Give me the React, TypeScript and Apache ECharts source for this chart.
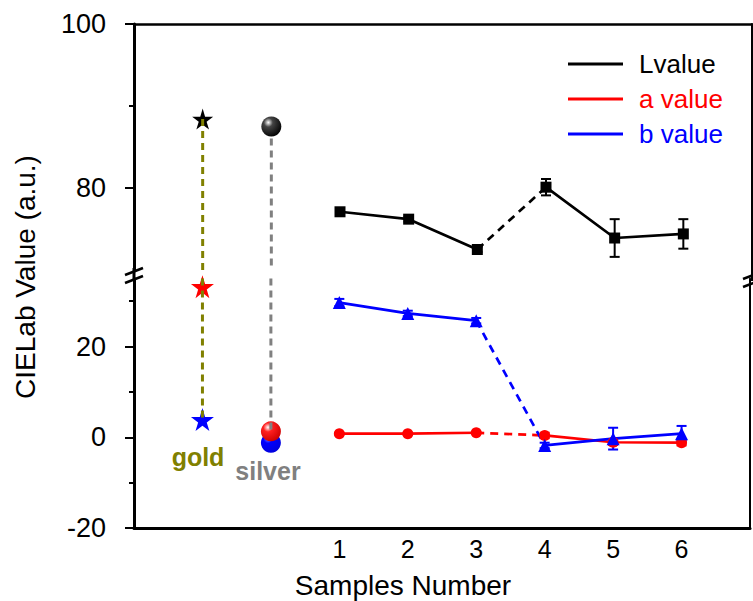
import React, { useEffect, useRef } from "react";
import * as echarts from "echarts";

// ---- data ----
const samples = [1, 2, 3, 4, 5, 6];
const lValues = [77.1, 76.2, 72.5, 80.1, 73.9, 74.4];
const lErrors = [0.3, 0.3, 0.3, 1.0, 2.3, 1.8];
const aValues = [0.8, 0.8, 1.0, 0.4, -1.1, -1.2];
const aErrors = [0.2, 0.2, 0.2, 0.6, 0.6, 0.6];
const bValues = [29.7, 27.3, 25.7, -1.8, -0.3, 0.8];
const bErrors = [0.8, 0.6, 0.6, 0.6, 2.4, 1.7];

const refNames = ["gold", "silver"];
const refX = [-1, 0];
const refL = [88.4, 87.5];
const refA = [33.2, 1.3];
const refB = [3.9, -1.2];

const xTickLabels = ["1", "2", "3", "4", "5", "6"];
const topMajorTicks = [80, 100];
const topMinorTicks = [90];
const bottomMajorTicks = [-20, 0, 20];
const bottomMinorTicks = [-10, 10, 30];
const legendNames = ["Lvalue", "a value", "b value"];

const FONT = "Liberation Sans, Arial, sans-serif";
const STAR =
  "path://M50,0 L61,35 L98,35 L68,57 L79,91 L50,70 L21,91 L32,57 L2,35 L39,35 Z";

const pairs = (vals: number[], from: number, to: number) =>
  samples.slice(from, to).map((s, i) => [s, vals[from + i]]);

const triples = (vals: number[], errs: number[]) =>
  samples.map((s, i) => [s, vals[i], errs[i]]);

function errorBars(data: number[][], color: string, gi: number) {
  return {
    type: "custom",
    xAxisIndex: gi,
    yAxisIndex: gi * 3,
    data,
    encode: { x: 0, y: 1 },
    z: 3,
    renderItem: (_p: any, api: any) => {
      const x = api.value(0);
      const y = api.value(1);
      const e = api.value(2);
      const hi = api.coord([x, y + e]);
      const lo = api.coord([x, y - e]);
      const w = 5;
      const st = { stroke: color, lineWidth: 2 };
      return {
        type: "group",
        children: [
          { type: "line", shape: { x1: hi[0], y1: hi[1], x2: lo[0], y2: lo[1] }, style: st },
          { type: "line", shape: { x1: hi[0] - w, y1: hi[1], x2: hi[0] + w, y2: hi[1] }, style: st },
          { type: "line", shape: { x1: lo[0] - w, y1: lo[1], x2: lo[0] + w, y2: lo[1] }, style: st },
        ],
      };
    },
  };
}

function lineTriplet(name: string, vals: number[], color: string, symbol: string, size: number, gi: number) {
  const base = {
    name,
    type: "line",
    xAxisIndex: gi,
    yAxisIndex: gi * 3,
    color,
    lineStyle: { color, width: 2.7 },
    itemStyle: { color },
    symbol,
    symbolSize: size,
    z: 4,
  };
  return [
    { ...base, data: pairs(vals, 0, 3) },
    { ...base, data: pairs(vals, 2, 4), showSymbol: false, symbol: "none", lineStyle: { color, width: 2.7, type: [8, 6] } },
    { ...base, data: pairs(vals, 3, 6) },
  ];
}

function sphere(c0: string, c1: string, c2: string) {
  return new echarts.graphic.RadialGradient(0.35, 0.3, 0.75, [
    { offset: 0, color: c0 },
    { offset: 0.3, color: c1 },
    { offset: 1, color: c2 },
  ]);
}

function refPoint(name: string, gi: number, x: number, y: number, symbol: string, size: number, color: any) {
  return {
    name, type: "scatter", xAxisIndex: gi, yAxisIndex: gi * 3,
    data: [[x, y]], symbol, symbolSize: size,
    itemStyle: { color, opacity: 1 }, z: 2,
  };
}

export default function App() {
  const ref = useRef<HTMLDivElement>(null);
  useEffect(() => {
    if (!ref.current) return;
    const chart = echarts.init(ref.current, undefined, { renderer: "svg" });

    const yLeft = (gi: number, min: number, max: number, major: number[], minor: number[]) => [
      {
        gridIndex: gi, type: "value", min, max, position: "left",
        axisLine: { show: true, onZero: false, lineStyle: { color: "#000", width: 3 } },
        axisTick: { show: true, inside: false, length: 9, customValues: major, lineStyle: { color: "#000", width: 2 } },
        axisLabel: { show: true, customValues: major, margin: 28, fontSize: 27, color: "#000", fontFamily: FONT },
        splitLine: { show: false },
      },
      {
        gridIndex: gi, type: "value", min, max, position: "left",
        axisLine: { show: false, onZero: false },
        axisTick: { show: true, length: 5, customValues: minor, lineStyle: { color: "#000", width: 2 } },
        axisLabel: { show: false },
        splitLine: { show: false },
      },
      {
        gridIndex: gi, type: "value", min, max, position: "right",
        axisLine: { show: true, onZero: false, lineStyle: { color: "#000", width: 2 } },
        axisTick: { show: false },
        axisLabel: { show: false },
        splitLine: { show: false },
      },
    ];

    const option: any = {
      animation: false,
      backgroundColor: "#fff",
      textStyle: { fontFamily: FONT },
      grid: [
        { left: 134, right: 1, top: 24, height: 246 },
        { left: 134, right: 1, top: 278.5, bottom: 73 },
      ],
      xAxis: [
        {
          gridIndex: 0, type: "value", min: -2, max: 7, interval: 1, position: "top",
          axisLine: { show: true, onZero: false, lineStyle: { color: "#000", width: 2.5 } },
          axisTick: { show: false }, axisLabel: { show: false }, splitLine: { show: false },
        },
        {
          gridIndex: 1, type: "value", min: -2, max: 7, interval: 1, position: "bottom",
          axisLine: { show: true, onZero: false, lineStyle: { color: "#000", width: 3 } },
          axisTick: { show: false },
          axisLabel: {
            show: true, margin: 8, fontSize: 25, color: "#000", fontFamily: FONT,
            formatter: (v: number) => {
              const i = samples.indexOf(v);
              return i >= 0 ? xTickLabels[i] : "";
            },
          },
          splitLine: { show: false },
        },
      ],
      yAxis: [
        ...yLeft(0, 70, 100, topMajorTicks, topMinorTicks),
        ...yLeft(1, -20, 35, bottomMajorTicks, bottomMinorTicks),
      ],
      legend: {
        orient: "vertical",
        left: 568,
        top: 51,
        padding: 0,
        icon: "rect",
        itemWidth: 55,
        itemHeight: 3,
        itemGap: 9,
        selectedMode: false,
        textStyle: { fontSize: 26, fontFamily: FONT, padding: [0, 0, 0, 11] },
        data: [
          { name: legendNames[0], textStyle: { color: "#000" } },
          { name: legendNames[1], textStyle: { color: "#ff0000" } },
          { name: legendNames[2], textStyle: { color: "#0000ff" } },
        ],
      },
      series: [
        ...lineTriplet(legendNames[0], lValues, "#000000", "rect", 11, 0),
        ...lineTriplet(legendNames[1], aValues, "#ff0000", "circle", 11, 1),
        ...lineTriplet(legendNames[2], bValues, "#0000ff", "triangle", 13, 1),
        errorBars(triples(lValues, lErrors), "#000000", 0),
        errorBars(triples(aValues, aErrors), "#ff0000", 1),
        errorBars(triples(bValues, bErrors), "#0000ff", 1),
        refPoint("gold L", 0, refX[0], refL[0], STAR, 21, "#000000"),
        refPoint("gold a", 1, refX[0], refA[0], STAR, 23, "#ff0000"),
        refPoint("gold b", 1, refX[0], refB[0], STAR, 23, "#0000ff"),
        refPoint("silver L", 0, refX[1], refL[1], "circle", 20, sphere("#ffffff", "#444444", "#000000")),
        refPoint("silver b", 1, refX[1], refB[1], "circle", 20, sphere("#8080ff", "#0000ff", "#0000dd")),
        refPoint("silver a", 1, refX[1], refA[1], "circle", 20, sphere("#ffffff", "#ff2020", "#cc0000")),
        {
          name: "gold line top", type: "line", xAxisIndex: 0, yAxisIndex: 0, symbol: "none",
          data: [[refX[0], refL[0]], [refX[0], 70]], lineStyle: { color: "#808000", width: 3, type: [7, 5] }, z: 3,
        },
        {
          name: "gold line bottom", type: "line", xAxisIndex: 1, yAxisIndex: 3, symbol: "none",
          data: [[refX[0], 35], [refX[0], refB[0]]], lineStyle: { color: "#808000", width: 3, type: [7, 5] }, z: 3,
        },
        {
          name: "silver line top", type: "line", xAxisIndex: 0, yAxisIndex: 0, symbol: "none",
          data: [[refX[1], refL[1]], [refX[1], 70]], lineStyle: { color: "#808080", width: 3, type: [7, 5] }, z: 1,
        },
        {
          name: "silver line bottom", type: "line", xAxisIndex: 1, yAxisIndex: 3, symbol: "none",
          data: [[refX[1], 35], [refX[1], refA[1]]], lineStyle: { color: "#808080", width: 3, type: [7, 5] }, z: 3,
        },
      ],
      graphic: [
        { type: "line", shape: { x1: 134, y1: 268, x2: 134, y2: 281 }, style: { stroke: "#000", lineWidth: 3 } },
        { type: "line", shape: { x1: 125, y1: 275, x2: 143, y2: 268 }, style: { stroke: "#000", lineWidth: 2.5 } },
        { type: "line", shape: { x1: 125, y1: 283, x2: 143, y2: 276 }, style: { stroke: "#000", lineWidth: 2.5 } },
        { type: "line", shape: { x1: 752, y1: 268, x2: 752, y2: 281 }, style: { stroke: "#000", lineWidth: 2 } },
        { type: "line", shape: { x1: 743, y1: 279, x2: 761, y2: 272 }, style: { stroke: "#000", lineWidth: 2.5 } },
        { type: "line", shape: { x1: 743, y1: 287, x2: 761, y2: 280 }, style: { stroke: "#000", lineWidth: 2.5 } },
        {
          type: "text", x: 25, y: 277, rotation: Math.PI / 2,
          style: { text: "CIELab Value (a.u.)", fontSize: 28, fontFamily: FONT, fill: "#000", align: "center", verticalAlign: "middle" },
        },
        {
          type: "text", x: 403, y: 585,
          style: { text: "Samples Number", fontSize: 28, fontFamily: FONT, fill: "#000", align: "center", verticalAlign: "middle" },
        },
        {
          type: "text", x: 198, y: 457,
          style: { text: refNames[0], fontSize: 25, fontWeight: "bold", fontFamily: FONT, fill: "#808000", align: "center", verticalAlign: "middle" },
        },
        {
          type: "text", x: 268, y: 471,
          style: { text: refNames[1], fontSize: 25, fontWeight: "bold", fontFamily: FONT, fill: "#808080", align: "center", verticalAlign: "middle" },
        },
      ],
    };
    chart.setOption(option);
    return () => chart.dispose();
  }, []);
  return (
    <div
      ref={ref}
      style={{ position: "fixed", left: 0, top: 0, width: 753, height: 601, background: "#fff" }}
    />
  );
}
